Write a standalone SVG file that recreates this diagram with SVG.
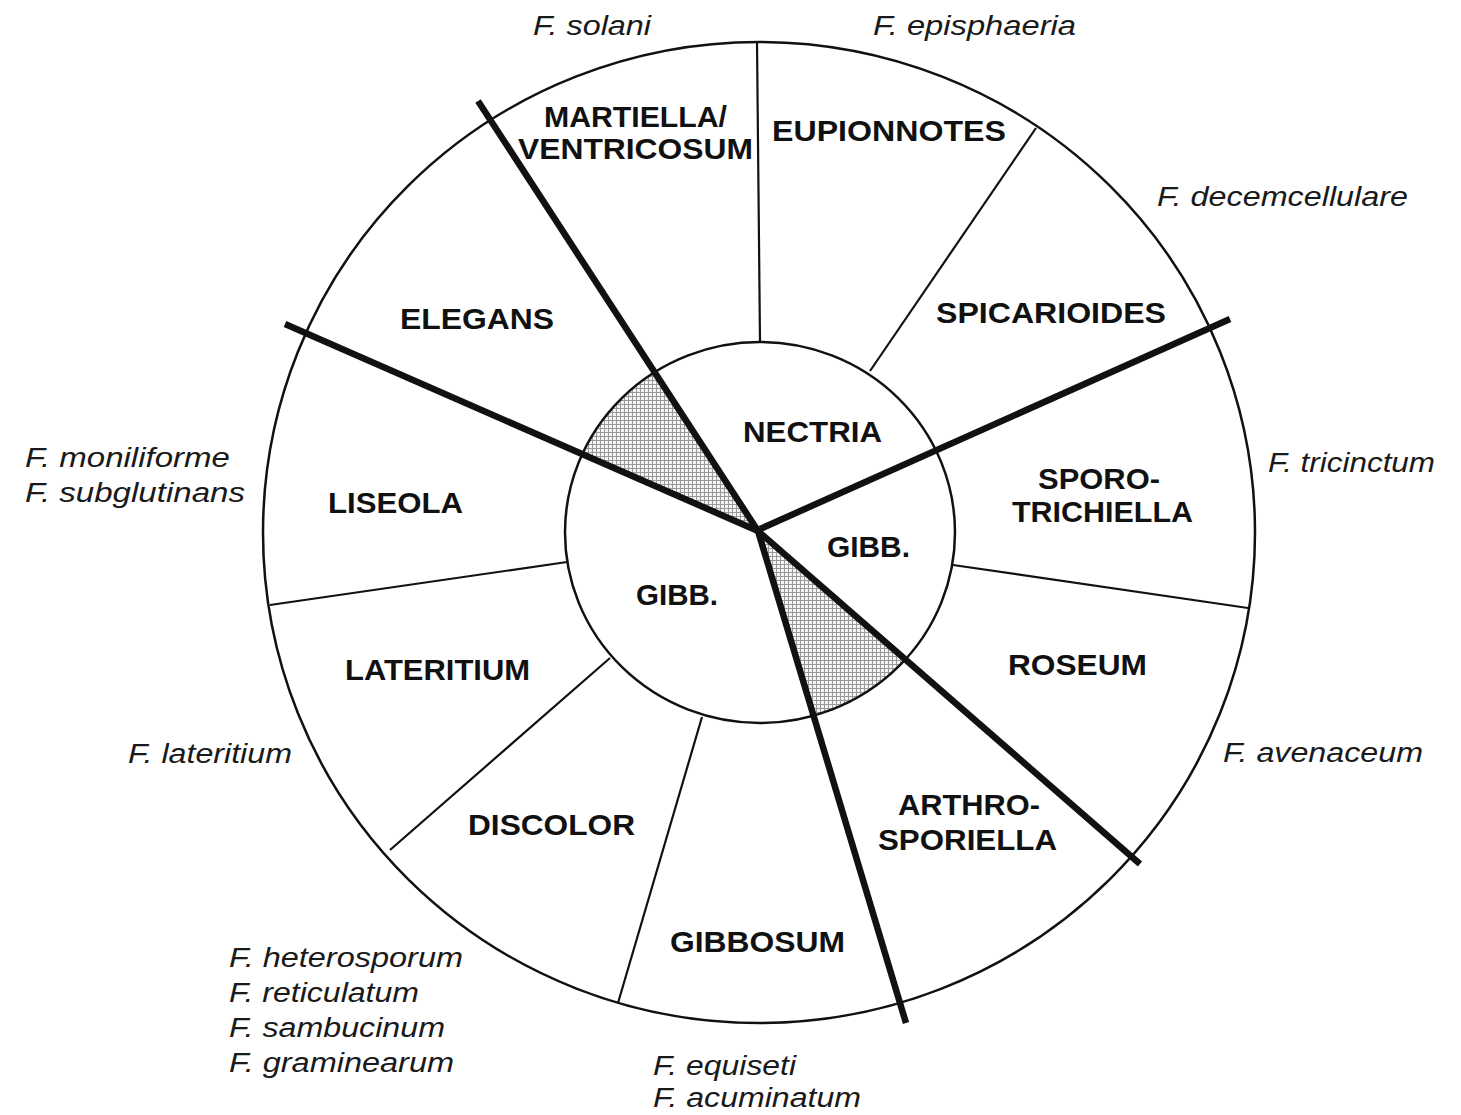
<svg xmlns="http://www.w3.org/2000/svg" width="1461" height="1115" viewBox="0 0 1461 1115">
<style>
.b{font-family:"Liberation Sans",Arial,sans-serif;font-weight:bold;font-size:30px;fill:#111}
.i{font-family:"Liberation Sans",Arial,sans-serif;font-style:italic;font-size:27px;fill:#1a1a1a}
.circ{fill:none;stroke:#111;stroke-width:2.5}
.thin{stroke:#111;stroke-width:2.2;fill:none}
.thick{stroke:#111;stroke-width:6.5;fill:none;stroke-linecap:butt}
</style>
<defs>
<pattern id="dots" width="4" height="4" patternUnits="userSpaceOnUse">
<rect width="4" height="4" fill="#f4f4f4"/>
<path d="M0 .5H4M.5 0V4" stroke="#999" stroke-width="1"/>
</pattern>
<clipPath id="inner"><ellipse cx="760" cy="532.5" rx="195" ry="190.5"/></clipPath>
</defs>
<rect width="1461" height="1115" fill="#fff"/>
<g id="shading" clip-path="url(#inner)">
<polygon points="758,531 478,101 285,324" fill="url(#dots)"/>
<polygon points="758,531 906,1023 1140,864" fill="url(#dots)"/>
</g>
<g id="connectors">
<line class="thin" x1="757" y1="42" x2="760" y2="342"/>
<line class="thin" x1="1036" y1="128" x2="870" y2="371"/>
<line class="thin" x1="953" y1="565" x2="1248" y2="608"/>
<line class="thin" x1="270" y1="605" x2="567" y2="562"/>
<line class="thin" x1="610" y1="658" x2="390" y2="850"/>
<line class="thin" x1="702" y1="717" x2="618" y2="1003"/>
<ellipse class="circ" cx="759" cy="532.5" rx="496" ry="490.5"/>
<ellipse class="circ" cx="760" cy="532.5" rx="195" ry="190.5"/>
<line class="thick" x1="758" y1="531" x2="478" y2="101"/>
<line class="thick" x1="758" y1="531" x2="285" y2="324"/>
<line class="thick" x1="760" y1="529" x2="1230" y2="319"/>
<line class="thick" x1="758" y1="531" x2="1140" y2="864"/>
<line class="thick" x1="758" y1="531" x2="906" y2="1023"/>
</g>
<g id="sections">
<g id="martiella"><text class="b" x="544" y="127" textLength="183" lengthAdjust="spacingAndGlyphs">MARTIELLA/</text><text class="b" x="518" y="159" textLength="235" lengthAdjust="spacingAndGlyphs">VENTRICOSUM</text></g>
<g id="eupionnotes"><text class="b" x="772" y="141" textLength="234" lengthAdjust="spacingAndGlyphs">EUPIONNOTES</text></g>
<g id="spicarioides"><text class="b" x="936" y="323" textLength="230" lengthAdjust="spacingAndGlyphs">SPICARIOIDES</text></g>
<g id="elegans"><text class="b" x="400" y="329" textLength="154" lengthAdjust="spacingAndGlyphs">ELEGANS</text></g>
<g id="liseola"><text class="b" x="328" y="513" textLength="135" lengthAdjust="spacingAndGlyphs">LISEOLA</text></g>
<g id="nectria"><text class="b" x="743" y="442" textLength="139" lengthAdjust="spacingAndGlyphs">NECTRIA</text></g>
<g id="gibb-right"><text class="b" x="827" y="557" textLength="83" lengthAdjust="spacingAndGlyphs">GIBB.</text></g>
<g id="gibb-left"><text class="b" x="636" y="605" textLength="82" lengthAdjust="spacingAndGlyphs">GIBB.</text></g>
<g id="sporotrichiella"><text class="b" x="1038" y="489" textLength="122" lengthAdjust="spacingAndGlyphs">SPORO-</text><text class="b" x="1012" y="522" textLength="181" lengthAdjust="spacingAndGlyphs">TRICHIELLA</text></g>
<g id="roseum"><text class="b" x="1008" y="675" textLength="139" lengthAdjust="spacingAndGlyphs">ROSEUM</text></g>
<g id="lateritium"><text class="b" x="345" y="680" textLength="185" lengthAdjust="spacingAndGlyphs">LATERITIUM</text></g>
<g id="discolor"><text class="b" x="468" y="835" textLength="167" lengthAdjust="spacingAndGlyphs">DISCOLOR</text></g>
<g id="gibbosum"><text class="b" x="670" y="952" textLength="175" lengthAdjust="spacingAndGlyphs">GIBBOSUM</text></g>
<g id="arthrosporiella"><text class="b" x="898" y="815" textLength="142" lengthAdjust="spacingAndGlyphs">ARTHRO-</text><text class="b" x="878" y="850" textLength="179" lengthAdjust="spacingAndGlyphs">SPORIELLA</text></g>
</g>
<g id="species">
<text class="i" x="533" y="35" textLength="118" lengthAdjust="spacingAndGlyphs">F. solani</text>
<text class="i" x="873" y="35" textLength="203" lengthAdjust="spacingAndGlyphs">F. episphaeria</text>
<text class="i" x="1157" y="206" textLength="251" lengthAdjust="spacingAndGlyphs">F. decemcellulare</text>
<text class="i" x="1268" y="472" textLength="167" lengthAdjust="spacingAndGlyphs">F. tricinctum</text>
<text class="i" x="1223" y="762" textLength="200" lengthAdjust="spacingAndGlyphs">F. avenaceum</text>
<text class="i" x="25" y="467" textLength="205" lengthAdjust="spacingAndGlyphs">F. moniliforme</text>
<text class="i" x="25" y="502" textLength="220" lengthAdjust="spacingAndGlyphs">F. subglutinans</text>
<text class="i" x="128" y="763" textLength="164" lengthAdjust="spacingAndGlyphs">F. lateritium</text>
<text class="i" x="229" y="967" textLength="234" lengthAdjust="spacingAndGlyphs">F. heterosporum</text>
<text class="i" x="229" y="1002" textLength="190" lengthAdjust="spacingAndGlyphs">F. reticulatum</text>
<text class="i" x="229" y="1037" textLength="216" lengthAdjust="spacingAndGlyphs">F. sambucinum</text>
<text class="i" x="229" y="1072" textLength="225" lengthAdjust="spacingAndGlyphs">F. graminearum</text>
<text class="i" x="653" y="1075" textLength="143" lengthAdjust="spacingAndGlyphs">F. equiseti</text>
<text class="i" x="653" y="1107" textLength="208" lengthAdjust="spacingAndGlyphs">F. acuminatum</text>
</g>
</svg>
